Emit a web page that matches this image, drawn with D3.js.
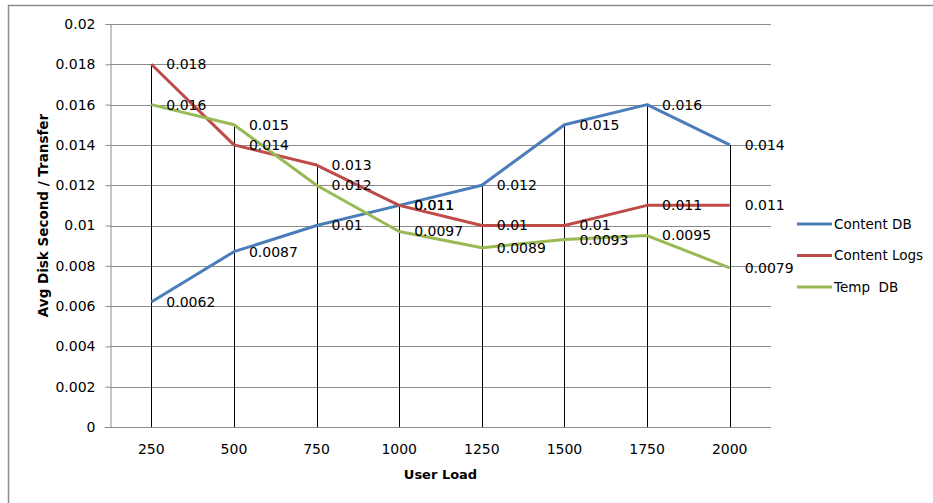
<!DOCTYPE html>
<html>
<head>
<meta charset="utf-8">
<title>Avg Disk Second / Transfer</title>
<script src="https://d3js.org/d3.v7.min.js"></script>
<style>
  html, body { margin: 0; padding: 0; background: #fff; }
  svg { display: block; }
  text { font-family: "DejaVu Sans", Verdana, sans-serif; fill: #000; white-space: pre; }
  .grid line { stroke: #8c8c8c; stroke-width: 1px; }
  .axis path, .axis line { stroke: #8c8c8c; }
  .drop { stroke: #000; stroke-width: 1px; }
  .series { fill: none; stroke-width: 3px; stroke-linejoin: round; }
</style>
</head>
<body>
<script>
var userLoad = [250, 500, 750, 1000, 1250, 1500, 1750, 2000];
var contentDB = [0.0062, 0.0087, 0.01, 0.011, 0.012, 0.015, 0.016, 0.014];
var contentLogs = [0.018, 0.014, 0.013, 0.011, 0.01, 0.01, 0.011, 0.011];
var tempDB = [0.016, 0.015, 0.012, 0.0097, 0.0089, 0.0093, 0.0095, 0.0079];
var yTicks = [0, 0.002, 0.004, 0.006, 0.008, 0.01, 0.012, 0.014, 0.016, 0.018, 0.02];
var seriesNames = ["Content DB", "Content Logs", "Temp  DB"];
var seriesColors = ["#4a7ebb", "#be4b48", "#98b954"];

var width = 933, height = 503;
var margin = {top: 24, right: 162, bottom: 76, left: 110};

var series = [contentDB, contentLogs, tempDB].map(function (vals, i) {
  return {name: seriesNames[i], color: seriesColors[i], values: vals};
});

var svg = d3.select("body").append("svg")
    .attr("width", width)
    .attr("height", height);

// chart border
svg.append("rect")
    .attr("x", 8.5).attr("y", 5.5)
    .attr("width", width).attr("height", height)
    .attr("fill", "none").attr("stroke", "#8c8c8c").attr("stroke-width", 1.5);

var x = d3.scaleBand()
    .domain(userLoad)
    .range([margin.left, width - margin.right]);

var y = d3.scaleLinear()
    .domain([0, 0.02])
    .range([height - margin.bottom, margin.top]);

function cx(d) { return x(d) + x.bandwidth() / 2; }

// horizontal gridlines
svg.append("g").attr("class", "grid")
  .selectAll("line").data(yTicks).enter().append("line")
    .attr("x1", margin.left).attr("x2", width - margin.right)
    .attr("y1", function (d) { return Math.round(y(d)) + 0.5; })
    .attr("y2", function (d) { return Math.round(y(d)) + 0.5; });

// y axis
var yAxis = svg.append("g").attr("class", "axis")
    .attr("transform", "translate(" + (margin.left + 0.5) + ",0)")
    .call(d3.axisLeft(y).tickValues(yTicks).tickSize(5).tickPadding(10)
      .tickFormat(function (d) { return String(+d.toFixed(4)); }));
yAxis.selectAll("text").style("font-size", "14px").attr("font-family", null);

// x axis
var xAxis = svg.append("g").attr("class", "axis")
    .attr("transform", "translate(0," + (Math.round(y(0)) + 0.5) + ")")
    .call(d3.axisBottom(x).tickSize(0).tickPadding(17));
xAxis.select(".domain").attr("d", "M" + (margin.left - 5) + ",0H" + (width - margin.right));
xAxis.selectAll("text").style("font-size", "14px").attr("font-family", null);

// drop lines from highest value to the axis
svg.append("g").selectAll("line").data(userLoad).enter().append("line")
    .attr("class", "drop")
    .attr("x1", function (d) { return Math.round(cx(d)) + 0.5; })
    .attr("x2", function (d) { return Math.round(cx(d)) + 0.5; })
    .attr("y1", function (d, i) { return y(d3.max(series, function (s) { return s.values[i]; })); })
    .attr("y2", y(0));

var line = d3.line()
    .x(function (d, i) { return cx(userLoad[i]); })
    .y(function (d) { return y(d); });

svg.append("g").selectAll("path").data(series).enter().append("path")
    .attr("class", "series")
    .attr("stroke", function (s) { return s.color; })
    .attr("d", function (s) { return line(s.values); });

// data labels
series.forEach(function (s) {
  svg.append("g").selectAll("text").data(s.values).enter().append("text")
      .attr("x", function (d, i) { return cx(userLoad[i]) + 15; })
      .attr("y", function (d) { return y(d); })
      .attr("dy", "0.35em")
      .style("font-size", "14px")
      .text(function (d) { return String(d); });
});

// axis titles
svg.append("text")
    .attr("transform", "translate(48," + ((margin.top + height - margin.bottom) / 2 - 10) + ") rotate(-90)")
    .attr("text-anchor", "middle")
    .style("font-size", "13.5px").style("font-weight", "bold")
    .text("Avg Disk Second / Transfer");

svg.append("text")
    .attr("x", (margin.left + width - margin.right) / 2)
    .attr("y", 479)
    .attr("text-anchor", "middle")
    .style("font-size", "13px").style("font-weight", "bold")
    .text("User Load");

// legend
var legend = svg.append("g").selectAll("g").data(series).enter().append("g")
    .attr("transform", function (s, i) { return "translate(797," + (224 + i * 31.5) + ")"; });
legend.append("line")
    .attr("x1", 0).attr("x2", 35)
    .attr("stroke", function (s) { return s.color; })
    .attr("stroke-width", 3);
legend.append("text")
    .attr("x", 37).attr("dy", "0.35em")
    .style("font-size", "13.5px")
    .text(function (s) { return s.name; });
</script>
</body>
</html>
